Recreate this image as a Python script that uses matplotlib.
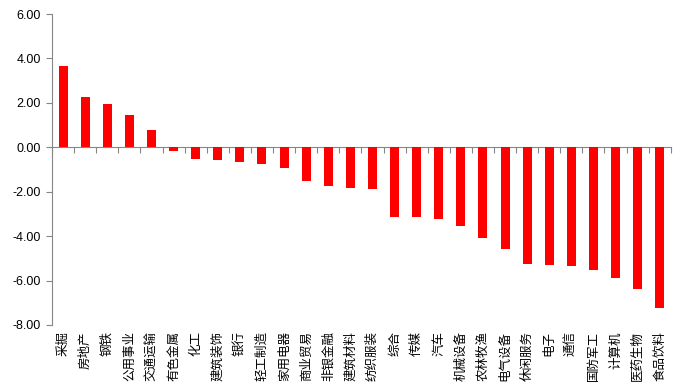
import matplotlib
matplotlib.use('Agg')
import matplotlib.pyplot as plt
import numpy as np

# 行业涨跌幅(%)
industries = ['采掘', '房地产', '钢铁', '公用事业', '交通运输', '有色金属', '化工',
              '建筑装饰', '银行', '轻工制造', '家用电器', '商业贸易', '非银金融',
              '建筑材料', '纺织服装', '综合', '传媒', '汽车', '机械设备', '农林牧渔',
              '电气设备', '休闲服务', '电子', '通信', '国防军工', '计算机', '医药生物',
              '食品饮料']
changes = [3.66, 2.26, 1.94, 1.44, 0.77, -0.18, -0.54, -0.59, -0.65, -0.74, -0.92,
           -1.51, -1.73, -1.82, -1.87, -3.13, -3.13, -3.22, -3.55, -4.09, -4.57,
           -5.26, -5.30, -5.35, -5.53, -5.89, -6.38, -7.24]
yticks = [6, 4, 2, 0, -2, -4, -6, -8]

plt.rcParams['font.family'] = ['Noto Sans CJK SC', 'DejaVu Sans']

fig = plt.figure(figsize=(6.81, 3.91), dpi=100)
ax = fig.add_axes([0.0764, 0.169, 0.9086, 0.795])

x = np.arange(len(industries))
ax.bar(x, changes, width=0.41, color='#ff0000', zorder=3)

ax.set_xlim(-0.5, len(industries) - 0.5)
ax.set_ylim(-8, 6)
ax.set_yticks(yticks)
ax.set_yticklabels(['%.2f' % v for v in yticks], family='Liberation Sans', fontsize=9)
ax.tick_params(axis='y', direction='out', length=4, color='#868686', pad=4)

# 零轴及分类刻度
for s in ['top', 'right']:
    ax.spines[s].set_visible(False)
ax.spines['left'].set_color('#868686')
ax.spines['bottom'].set_position(('data', 0))
ax.spines['bottom'].set_color('#868686')
ax.set_xticks(np.arange(len(industries) + 1) - 0.5)
ax.set_xticklabels([])
ax.tick_params(axis='x', direction='out', length=4, color='#868686')

trans = ax.get_xaxis_transform()
for i, name in enumerate(industries):
    ax.text(i, -0.02, name, transform=trans, rotation=90, ha='center', va='top',
            fontsize=9, color='black')

fig.savefig('out.png', dpi=100)
